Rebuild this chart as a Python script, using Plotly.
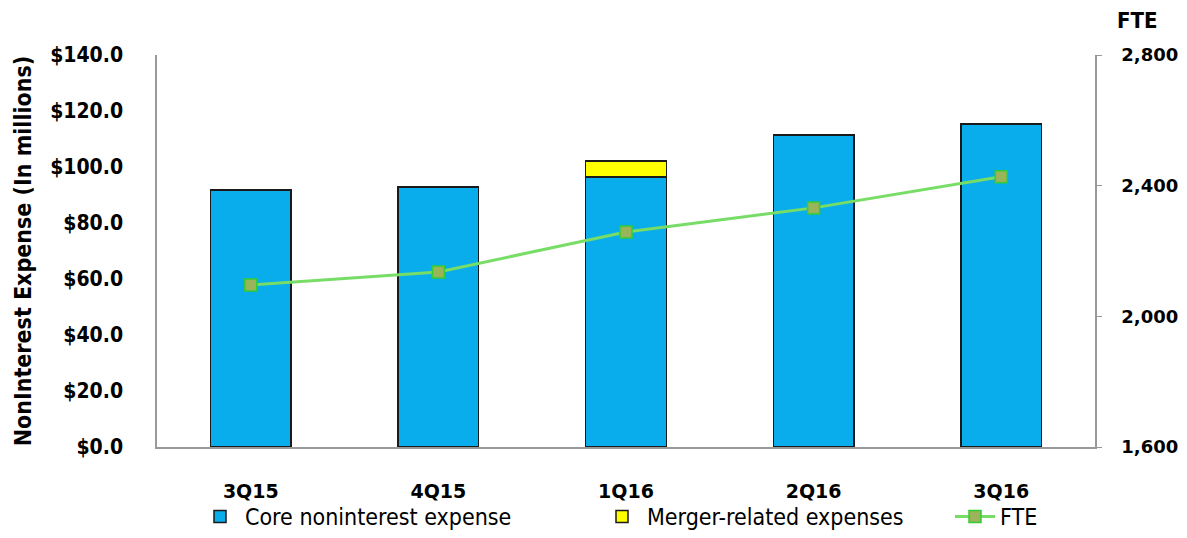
import plotly.graph_objects as go

quarters = ["3Q15", "4Q15", "1Q16", "2Q16", "3Q16"]
core_expense = [91.8, 92.9, 96.4, 111.4, 115.4]
merger_expense = [0.0, 0.0, 5.7, 0.0, 0.0]
fte = [2096, 2136, 2258, 2332, 2427]

left_ticks = [0, 20, 40, 60, 80, 100, 120, 140]
left_labels = ["$%.1f" % v for v in left_ticks]
right_ticks = [1600, 2000, 2400, 2800]
right_labels = ["{:,}".format(v) for v in right_ticks]

fig = go.Figure()
fig.add_trace(go.Bar(
    x=quarters, y=core_expense, name="Core noninterest expense",
    marker=dict(color="#0AADEB", line=dict(color="#1a1a1a", width=1.5)),
    width=0.43, legend="legend",
))
fig.add_trace(go.Bar(
    x=quarters, y=merger_expense, name="Merger-related expenses",
    marker=dict(color="#FFFF00", line=dict(color="#1a1a1a", width=1.5)),
    width=0.43, legend="legend2",
))
fig.add_trace(go.Scatter(
    x=quarters, y=fte, name="FTE", yaxis="y2", mode="lines+markers",
    line=dict(color="#77DD66", width=3),
    marker=dict(symbol="square", size=12, color="#9BB45A",
                line=dict(color="#33CC33", width=1.5)),
    legend="legend3",
))

cond = "'DejaVu Sans Condensed', Arial"


def leg(px):
    return dict(orientation="h", x=(px - 157) / 938, xanchor="left",
                y=0, yanchor="bottom", yref="container",
                font=dict(family=cond, size=23, color="black"),
                itemwidth=40, bgcolor="rgba(0,0,0,0)")


fig.update_layout(
    barmode="stack",
    width=1187, height=538,
    margin=dict(l=157, r=92, t=55, b=91, autoexpand=False),
    paper_bgcolor="white", plot_bgcolor="white",
    showlegend=True,
    legend=leg(195),
    legend2=leg(597),
    legend3=leg(950),
    xaxis=dict(
        tickfont=dict(family="'DejaVu Sans', Arial", size=19, color="black", weight="bold"),
        showline=True, linecolor="#999999", linewidth=1.5,
        showgrid=False, ticks="", range=[-0.5, 4.5], ticklabelstandoff=26,
    ),
    yaxis=dict(
        range=[0, 140], tickvals=left_ticks, ticktext=left_labels,
        tickfont=dict(family=cond, size=21, color="black", weight="bold"),
        showline=True, linecolor="#999999", linewidth=1.5,
        showgrid=False, ticks="", ticklabelstandoff=28,
        title=dict(text="NonInterest Expense (In millions)",
                   font=dict(family=cond, size=23, color="black", weight="bold"),
                   standoff=12),
    ),
    yaxis2=dict(
        range=[1600, 2800], tickvals=right_ticks, ticktext=right_labels,
        overlaying="y", side="right",
        tickfont=dict(family="'DejaVu Sans', Verdana", size=18, color="black", weight="bold"),
        showline=True, linecolor="#999999", linewidth=1.5,
        showgrid=False, ticks="outside", ticklen=5, tickcolor="#999999",
        ticklabelstandoff=16,
    ),
    annotations=[dict(
        text="FTE", x=1.0, xref="paper", y=1.0, yref="paper",
        xanchor="left", yanchor="bottom", xshift=20, yshift=20, showarrow=False,
        font=dict(family=cond, size=22, color="black", weight="bold"),
    )],
)

fig.write_html("out.html")
